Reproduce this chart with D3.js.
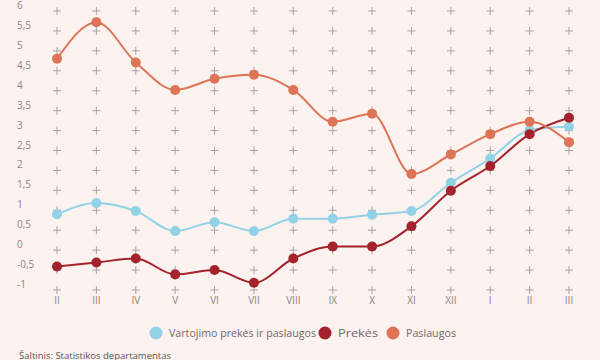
<!DOCTYPE html>
<html><head><meta charset="utf-8">
<script src="https://cdn.jsdelivr.net/npm/d3@7"></script>
<style>
html,body{margin:0;padding:0;background:#fcf2f0;}
svg{display:block;font-family:"Open Sans",sans-serif;}
</style></head>
<body>
<svg id="chart" width="600" height="360"></svg>
<script>
const categories = ["II","III","IV","V","VI","VII","VIII","IX","X","XI","XII","I","II","III"];
const seriesNames = ["Vartojimo prekės ir paslaugos","Prekės","Paslaugos"];
const seriesColors = ["#92d2e6","#a3222c","#dc7455"];
const vartojimo = [0.90,1.18,0.98,0.48,0.70,0.48,0.79,0.79,0.89,0.98,1.69,2.30,3.01,3.10];
const prekes    = [-0.41,-0.31,-0.21,-0.61,-0.50,-0.82,-0.21,0.09,0.09,0.60,1.49,2.11,2.91,3.32];
const paslaugos = [4.80,5.72,4.71,4.02,4.30,4.40,4.02,3.22,3.42,1.91,2.40,2.91,3.22,2.71];
const yTicks = [6,5.5,5,4.5,4,3.5,3,2.5,2,1.5,1,0.5,0,-0.5,-1];
const sourceText = "Šaltinis: Statistikos departamentas";

const svg = d3.select("#chart");
const idx = categories.map((c,i)=>i);
const x = d3.scalePoint().domain(idx).range([57,569]);
const y = d3.scaleLinear().domain([-1,6]).range([290,11]);

// crosses grid
const g = svg.append("g");
idx.forEach(i=>{
  yTicks.forEach(t=>{
    const cx=x(i), cy=y(t);
    g.append("path").attr("d",`M${cx-4},${cy}H${cx+4}M${cx},${cy-4}V${cy+4}`)
      .attr("stroke","#aaa4a2").attr("stroke-width",1).attr("fill","none");
  });
});

// y labels
const fmt = v => String(v).replace(".",",");
svg.append("g").selectAll("text").data(yTicks).join("text")
  .attr("x",17).attr("y",d=>y(d)-2).attr("font-size",10).attr("fill","#8a8685")
  .text(fmt);

// x labels
svg.append("g").selectAll("text").data(idx).join("text")
  .attr("x",d=>x(d)).attr("y",304).attr("text-anchor","middle")
  .attr("font-size",10).attr("fill","#8a8685").text(d=>categories[d]);

const data = [vartojimo, prekes, paslaugos];
const line = d3.line().x((d,i)=>x(i)).y(d=>y(d)).curve(d3.curveMonotoneX);
data.forEach((s,k)=>{
  svg.append("path").datum(s).attr("d",line).attr("fill","none")
    .attr("stroke",seriesColors[k]).attr("stroke-width",2);
});
data.forEach((s,k)=>{
  svg.append("g").selectAll("circle").data(s).join("circle")
    .attr("cx",(d,i)=>x(i)).attr("cy",d=>y(d)).attr("r",5)
    .attr("fill",seriesColors[k]);
});

// legend
const legendX = [156,325,393];
const legendW = [147,40,50];
seriesNames.forEach((n,k)=>{
  svg.append("circle").attr("cx",legendX[k]).attr("cy",333).attr("r",6.5).attr("fill",seriesColors[k]);
  svg.append("text").attr("x",legendX[k]+13).attr("y",337).attr("font-size",11)
    .attr("textLength",legendW[k]).attr("lengthAdjust","spacingAndGlyphs")
    .attr("fill","#6f6b6a").text(n);
});

svg.append("text").attr("x",19).attr("y",358.5).attr("font-size",9.5).attr("fill","#555").text(sourceText);
</script>
</body></html>
